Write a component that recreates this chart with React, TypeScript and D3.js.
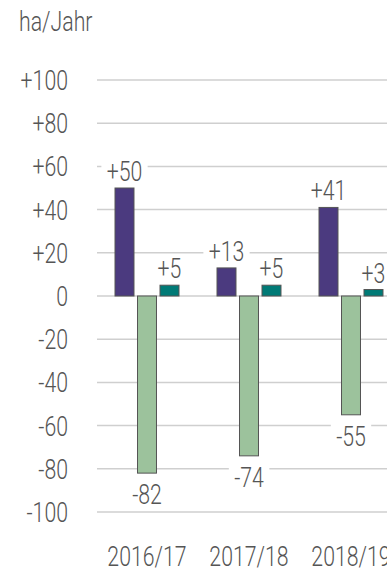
import { useEffect, useRef } from 'react'
import * as d3 from 'd3'

const W = 387, H = 573
const FONT = 'Roboto, "Noto Sans", sans-serif'
const TEXT = '#555'
const FS = 28
const SX = 0.76 // horizontal squeeze, the original face is a narrow DIN

const categories = ['2016/17', '2017/18', '2018/19']
const series = ['zunahme', 'abnahme', 'saldo']
const zunahme = [50, 13, 41]
const abnahme = [-82, -74, -55]
const saldo = [5, 5, 3]
const yTicks = [100, 80, 60, 40, 20, 0, -20, -40, -60, -80, -100]
const colors = ['#4b3a7f', '#9cc29c', '#007a76']
const unit = 'ha/Jahr'

const fmt = (v: number) => (v > 0 ? `+${v}` : `${v}`)

type Sel = d3.Selection<any, unknown, null, undefined>

function label(parent: Sel, x: number, y: number, str: string, anchor = 'start', dy = '0') {
  const g = parent.append('g').attr('transform', `translate(${x},${y}) scale(${SX},1)`)
  g.append('text')
    .attr('text-anchor', anchor).attr('dy', dy)
    .attr('font-family', FONT).attr('font-weight', 300)
    .attr('font-size', FS).attr('fill', TEXT)
    .text(str)
  return g
}

export default function App() {
  const ref = useRef<SVGSVGElement>(null)

  useEffect(() => {
    if (!ref.current) return
    const svg = d3.select(ref.current)
    svg.selectAll('*').remove()

    const y = d3.scaleLinear().domain([-100, 100]).range([512, 80])
    const x0 = d3.scaleBand<string>().domain(categories).range([96, 402])
    const x1 = d3.scaleBand<string>().domain(series).range([17.25, 84.75])
      .paddingInner(0.156).paddingOuter(0.078)

    label(svg as Sel, 19, 31, unit)

    // grid + y labels
    const grid = svg.append('g')
    yTicks.forEach(t => {
      grid.append('line')
        .attr('x1', 97).attr('x2', W)
        .attr('y1', y(t)).attr('y2', y(t))
        .attr('stroke', '#cfcfcf').attr('stroke-width', 1.5)
      label(grid as Sel, 68, y(t), fmt(t), 'end', '0.36em')
    })

    const rows = categories.map((c, i) => ({
      c, vals: [zunahme[i], abnahme[i], saldo[i]],
    }))

    // bars
    const bars = svg.append('g')
    rows.forEach(r => {
      r.vals.forEach((v, j) => {
        bars.append('rect')
          .attr('x', x0(r.c)! + x1(series[j])!).attr('width', x1.bandwidth())
          .attr('y', y(Math.max(0, v)))
          .attr('height', Math.abs(y(v) - y(0)))
          .attr('fill', colors[j])
          .attr('stroke', '#555').attr('stroke-width', 1)
      })
    })

    // value labels, white box knocks out the grid
    const labels = svg.append('g')
    rows.forEach(r => {
      r.vals.forEach((v, j) => {
        const cx = x0(r.c)! + x1(series[j])! + x1.bandwidth() / 2
        const g = label(labels as Sel, cx, v >= 0 ? y(v) - 7 : y(v) + 31, fmt(v), 'middle')
        const bb = (g.select('text').node() as SVGTextElement).getBBox()
        g.insert('rect', 'text')
          .attr('x', bb.x - 7).attr('y', bb.y + 4)
          .attr('width', bb.width + 14).attr('height', bb.height - 8)
          .attr('fill', '#fff')
      })
    })

    // x labels
    const xl = svg.append('g')
    categories.forEach(c => {
      label(xl as Sel, x0(c)! + x0.bandwidth() / 2, 566, c, 'middle')
    })
  }, [])

  return (
    <svg ref={ref} width={W} height={H}
      style={{ position: 'absolute', left: 0, top: 0, background: '#fff' }} />
  )
}
